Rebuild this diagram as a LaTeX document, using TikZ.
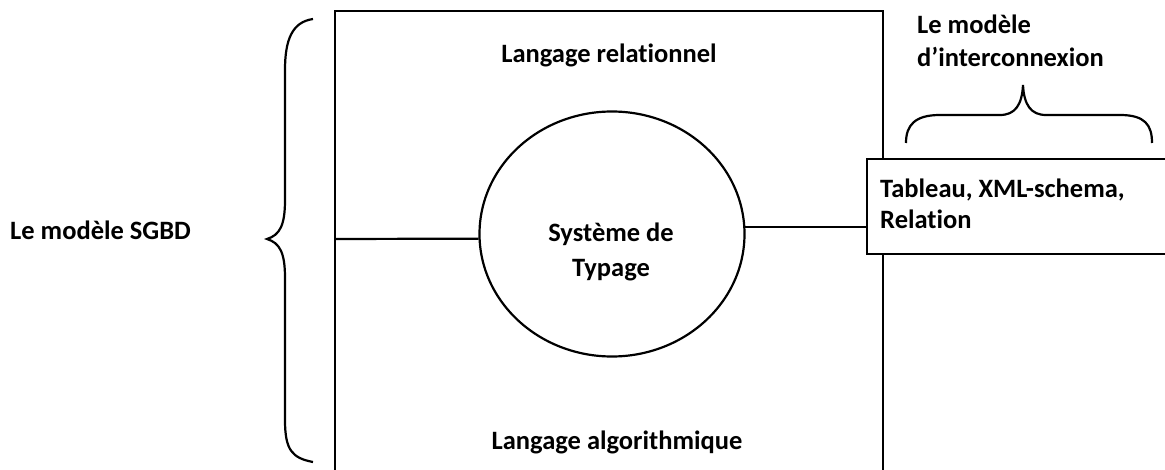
\documentclass[tikz,border=0pt]{standalone}
\usepackage{fontspec}
\setmainfont{Carlito}[Ligatures=NoCommon]
\usetikzlibrary{shapes.geometric}
\tikzset{
  lbl/.style={font=\fontsize{26.5}{32}\selectfont\bfseries, inner sep=0pt},
  stroke/.style={line width=2.2pt, black},
}
\begin{document}
\begin{tikzpicture}[x=1pt,y=-1pt]
\useasboundingbox (0,0) rectangle (1165,470);
% main rectangle (open at bottom)
\coordinate (rbl) at (335,470);
\coordinate (rtl) at (335,11);
\coordinate (rtr) at (883,11);
\coordinate (rbr) at (883,470);
\draw[stroke] (rbl) -- (rtl) -- (rtr) -- (rbr);
% ellipse
\node[stroke, draw, ellipse, minimum width=265pt, minimum height=245pt, inner sep=0pt] (circ) at (612,234) {};
\node[lbl, align=center, anchor=base] (typ) at (611,277) {Système de\\[3pt]Typage};
% right box
\node[stroke, draw, fill=white, anchor=north west, minimum width=320pt, minimum height=95pt, inner sep=0pt] (box) at (866,158) {};
\node[lbl, align=left, anchor=base west] (boxtxt) at (880,229) {Tableau, XML-schema,\\[-1pt]Relation};
% connectors
\coordinate (L) at (335,239);
\draw[stroke] (L) -- (circ.182);
\draw[stroke] (circ.3) -- (circ.3 -| box.west);
% texts
\node[lbl, anchor=base] (lr) at (609,63) {Langage relationnel};
\node[lbl, anchor=base] (la) at (617,449) {Langage algorithmique};
\node[lbl, anchor=base west] (sgbd) at (10,240) {Le modèle SGBD};
\node[lbl, anchor=base west, align=left] (inter) at (917,67) {Le modèle\\[1pt]d’interconnexion};
% left brace
\draw[stroke] (313,19) .. controls (292,22) and (285,40) .. (285,70) -- (285,200)
  .. controls (285,225) and (280,235) .. (267,239)
  .. controls (280,243) and (285,253) .. (285,278) -- (285,420)
  .. controls (285,450) and (292,458) .. (313,462);
% right brace
\draw[stroke] (906,143) .. controls (906,125) and (915,115) .. (940,115) -- (1000,115)
  .. controls (1015,115) and (1022,105) .. (1023,85)
  .. controls (1024,105) and (1031,115) .. (1046,115) -- (1120,115)
  .. controls (1145,115) and (1152,125) .. (1152,143);
\end{tikzpicture}
\end{document}
